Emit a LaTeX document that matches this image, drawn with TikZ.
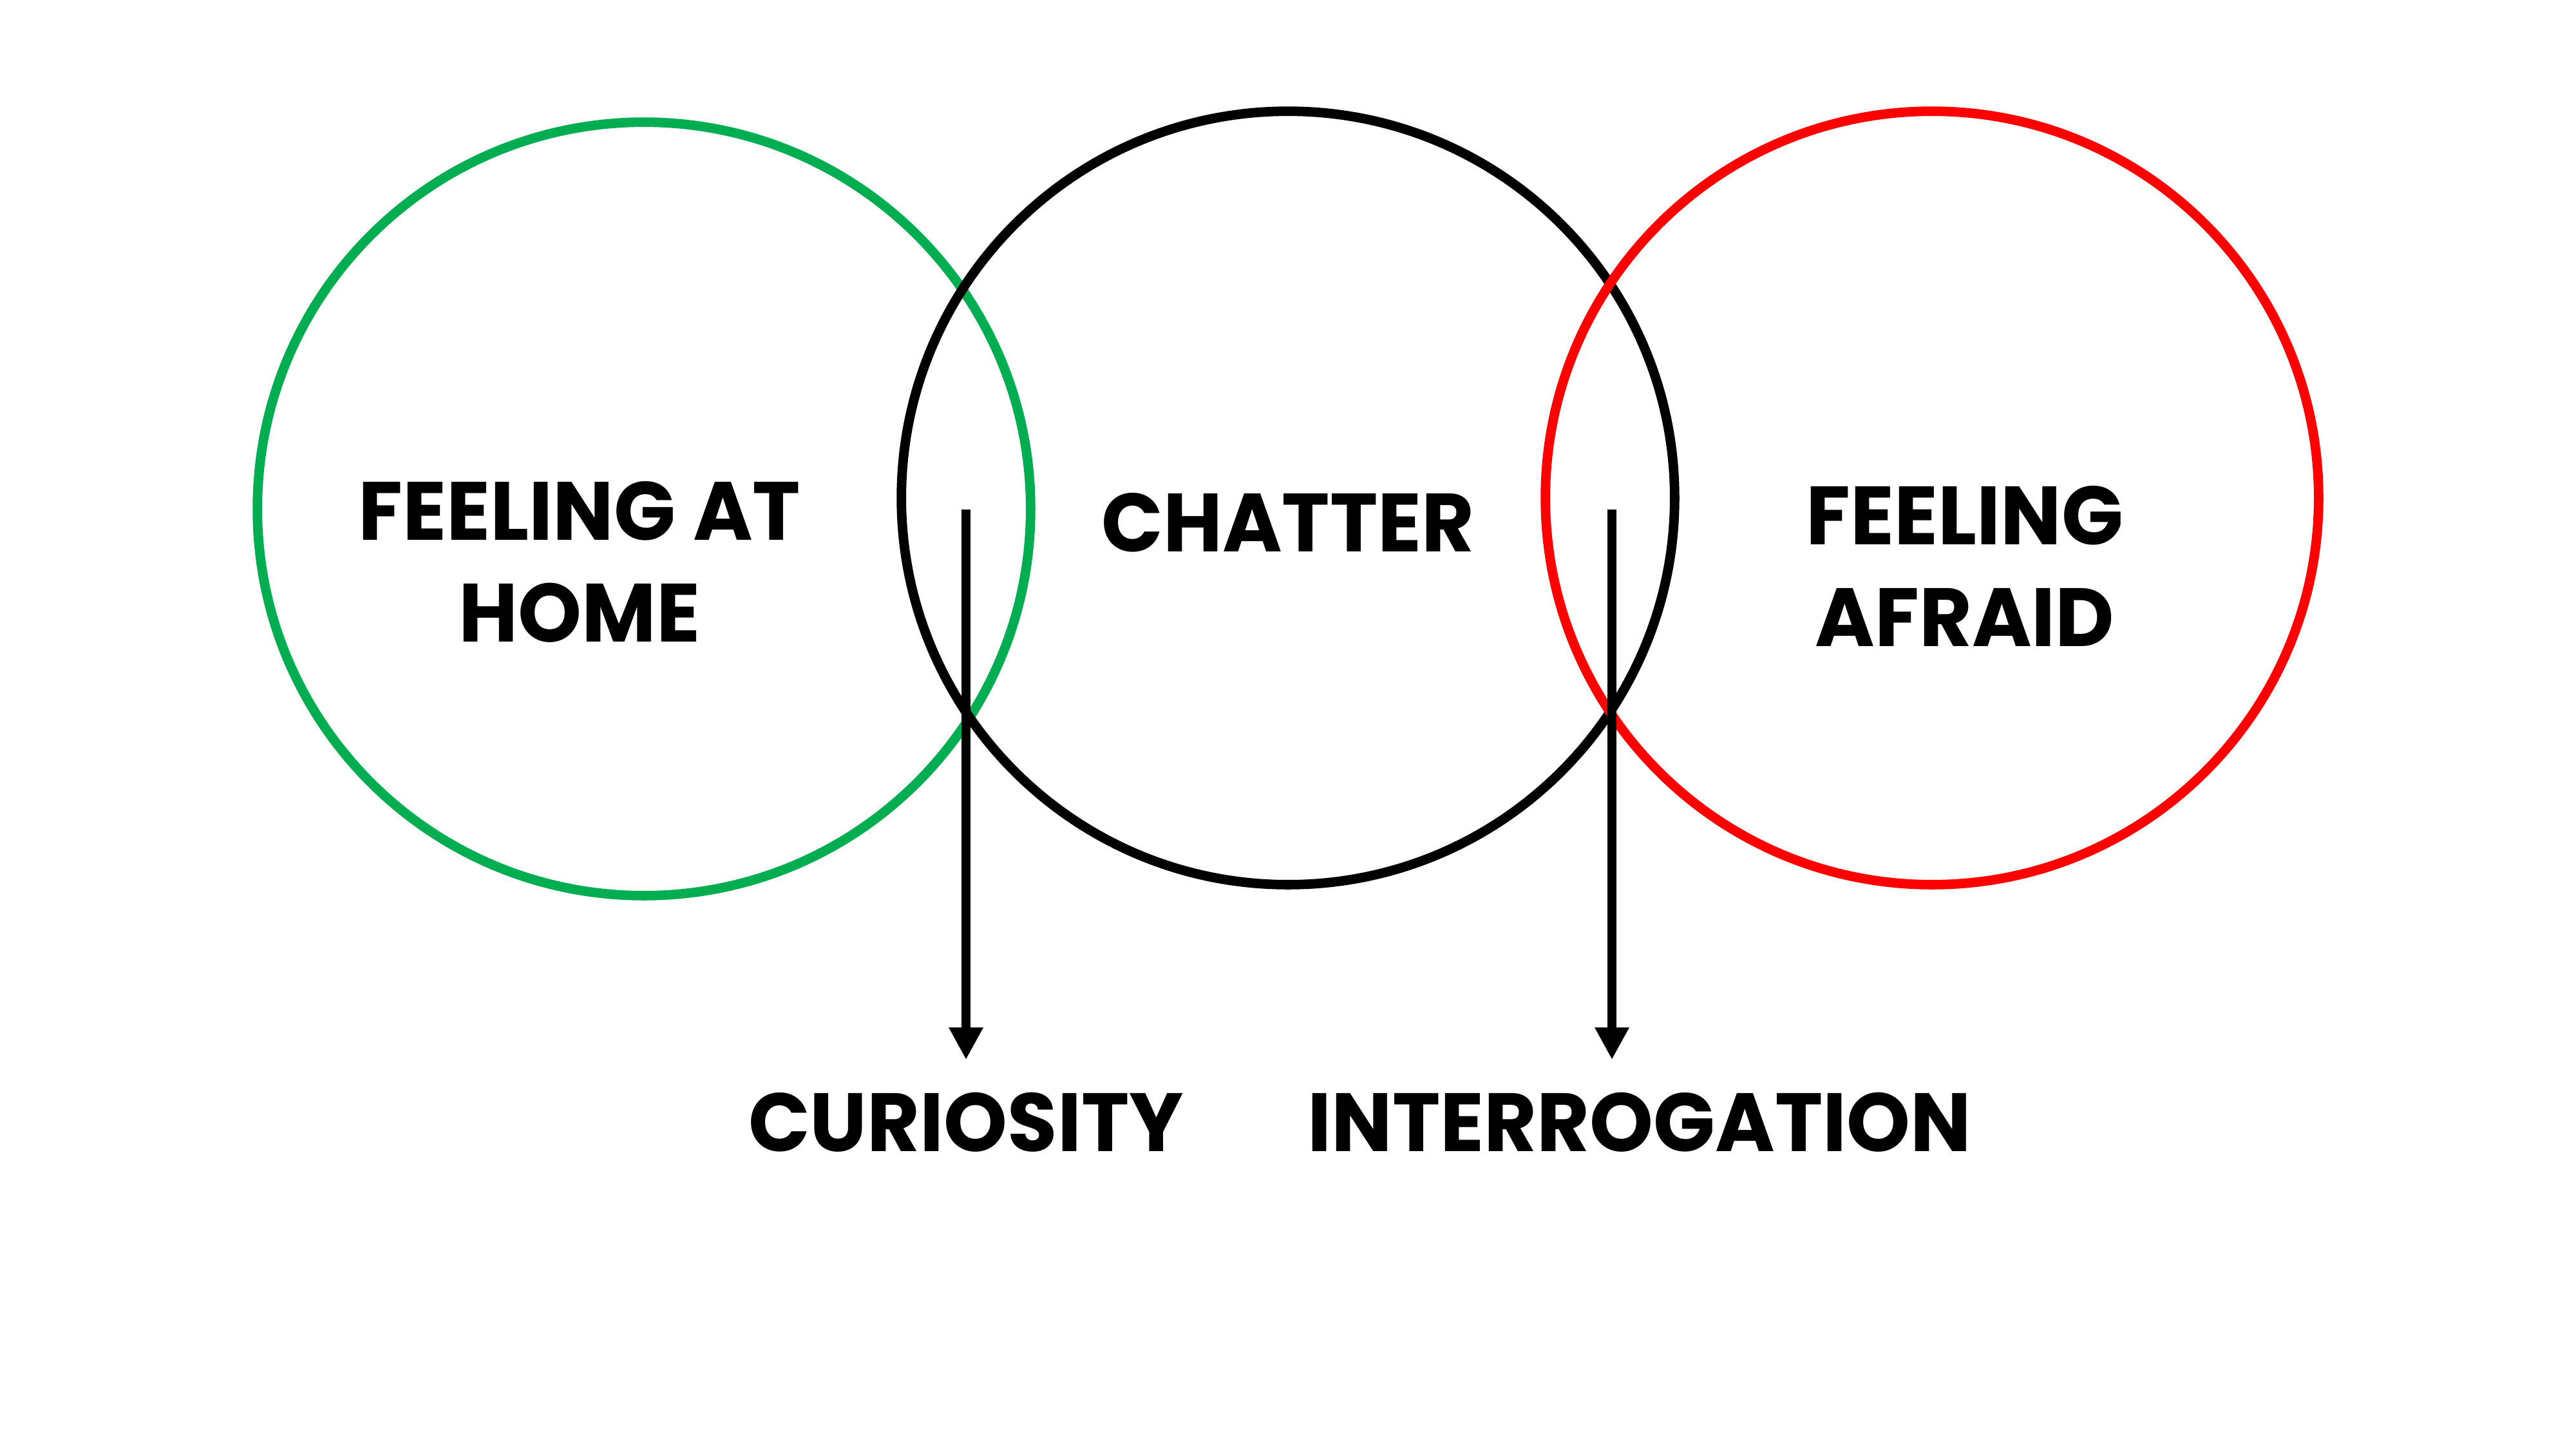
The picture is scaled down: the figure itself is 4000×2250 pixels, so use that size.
\documentclass[tikz,border=0pt]{standalone}
\usepackage{fontspec}
\setmainfont{Poppins}[FakeStretch=0.98]
\usetikzlibrary{arrows.meta}
\definecolor{homegreen}{RGB}{0,173,80}
\definecolor{afraidred}{RGB}{255,0,0}
\tikzset{
  ring/.style={circle, line width=4.2pt, minimum size=12cm, inner sep=0pt},
  word/.style={font=\bfseries\fontsize{36.5}{45}\selectfont, align=center, inner sep=0pt},
  flow/.style={line width=4.2pt, -{Triangle[width=0.5cm,length=0.5cm]}}
}
\begin{document}
\begin{tikzpicture}[x=0.01cm,y=-0.01cm]
\useasboundingbox (0,0) rectangle (4000,2250);
% Circulos
\node[ring, draw=homegreen] (home) at (1000,790) {};
\node[ring, draw=black] (chatter) at (2000,773) {};
\node[ring, draw=afraidred] (afraid) at (3000,773) {};
% Textos
\node[word] (hometext) at (900,872) {FEELING AT\\HOME};
\node[word] (chattertext) at (2000,811) {CHATTER};
\node[word] (afraidtext) at (3051,879) {FEELING\\AFRAID};
\node[word] (curiosity) at (1500,1742) {CURIOSITY};
\node[word] (interrogation) at (2546,1742) {INTERROGATION};
% Flechas
\coordinate (top1) at (1500,791);
\coordinate (end1) at (1500,1645);
\coordinate (top2) at (2503,791);
\coordinate (end2) at (2503,1645);
\draw[flow] (top1) -- (end1);
\draw[flow] (top2) -- (end2);
\end{tikzpicture}
\end{document}
